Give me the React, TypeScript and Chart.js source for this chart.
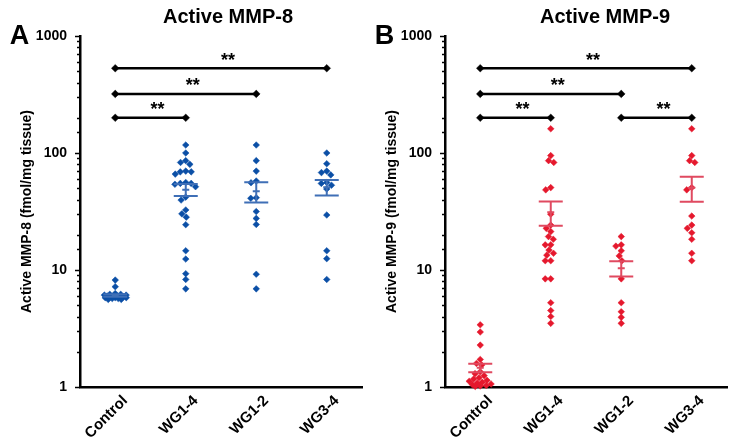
import React, { useEffect, useRef } from 'react';
import { Chart, registerables } from 'chart.js';

Chart.register(...registerables);

// ---------- data ----------
const categories = ['Control', 'WG1-4', 'WG1-2', 'WG3-4'];
const majorTicks = [1, 10, 100, 1000];

const mmp8Control = [8.2, 7.2, 6.3, 6.2, 6.2, 6.1, 6.1, 6.0, 6.0, 6.0, 5.9, 5.9, 5.9, 5.8, 5.8, 5.8, 5.7, 5.7, 5.6, 5.6];
const mmp8WG14 = [117, 100, 86, 83, 80, 70, 69, 69, 66, 56, 55, 55, 54, 51.5, 42, 39.6, 32.6, 30.2, 28.3, 24.4, 14.6, 12.4, 9.3, 8.3, 6.9];
const mmp8WG12 = [117, 86, 70, 57.6, 55.7, 41.5, 41, 31.6, 27.6, 24.5, 9.2, 6.9];
const mmp8WG34 = [100, 81, 70, 68, 65, 56, 55, 53, 49.3, 29.5, 14.6, 12.5, 8.3];
const mmp8Mean = [6.05, 48.6, 47, 51];
const mmp8Sem = [0.15, 5.6, 9.2, 7.7];

const mmp9Control = [3.4, 2.95, 2.28, 1.72, 1.59, 1.54, 1.35, 1.3, 1.25, 1.2, 1.17, 1.14, 1.12, 1.1, 1.08, 1.06, 1.05, 1.03, 1.02, 1.01];
const mmp9WG14 = [161, 95, 86, 83, 50.6, 48.4, 30, 24.2, 22.7, 21.3, 19.3, 18.3, 16.4, 16.4, 14.8, 13.9, 13.4, 12, 12, 8.4, 8.4, 5.25, 4.5, 4.0, 3.5];
const mmp9WG12 = [19.3, 16.4, 16.0, 14.6, 13.2, 12.0, 8.4, 5.25, 4.4, 3.94, 3.5];
const mmp9WG34 = [161, 95, 86, 83, 50.6, 48.4, 28.9, 24.2, 22.7, 20.8, 18.3, 13.9, 12.0];
const mmp9Mean = [1.46, 31.2, 10.35, 50.5];
const mmp9Sem = [0.12, 7.3, 1.55, 12.2];

// significance brackets: from group, to group, level
const mmp8BracketFrom = [0, 0, 0];
const mmp8BracketTo = [3, 2, 1];
const mmp8BracketLevel = [530, 320, 200];
const mmp9BracketFrom = [0, 0, 0, 2];
const mmp9BracketTo = [3, 2, 1, 3];
const mmp9BracketLevel = [530, 320, 200, 200];
const sigLabel = '**';

// ---------- layout constants ----------
const FONT = 'Arial, "Liberation Sans", Helvetica, sans-serif';
const PX_PER_DECADE = 117;
const PX_PER_CAT = 70.5;
const CANVAS_W = 367;
const CANVAS_H = 444;
const SWARM_SPACING = 5.5;
const SWARM_HALF = 11;

// deterministic beeswarm layout (pixel offsets), capped in width
function beeswarm(values: number[]): number[] {
  const spacing = SWARM_SPACING;
  const ys = values.map((v) => Math.log10(v) * PX_PER_DECADE);
  const order = values.map((_, i) => i).sort((a, b) => ys[b] - ys[a]);
  const placed: { x: number; y: number }[] = [];
  const xs = new Array(values.length).fill(0);
  const d2 = spacing * spacing;
  for (const i of order) {
    const y = ys[i];
    const cands = [0];
    for (const p of placed) {
      const dy = y - p.y;
      if (Math.abs(dy) < spacing) {
        const dx = Math.sqrt(d2 - dy * dy);
        cands.push(p.x + dx, p.x - dx);
      }
    }
    cands.sort((a, b) => Math.abs(a) - Math.abs(b) || a - b);
    let best: number | null = null;
    for (const c of cands) {
      if (Math.abs(c) > SWARM_HALF) break;
      if (placed.every((p) => (p.x - c) ** 2 + (p.y - y) ** 2 >= d2 - 1e-6)) {
        best = c;
        break;
      }
    }
    if (best === null) {
      let bestScore = -1;
      best = 0;
      for (let k = 0; k <= 2 * SWARM_HALF; k++) {
        const c = k % 2 === 0 ? k / 2 : -(k + 1) / 2;
        if (Math.abs(c) > SWARM_HALF) continue;
        let minD = Infinity;
        for (const p of placed) minD = Math.min(minD, (p.x - c) ** 2 + (p.y - y) ** 2);
        if (minD > bestScore + 1e-6) {
          bestScore = minD;
          best = c;
        }
      }
    }
    placed.push({ x: best, y });
    xs[i] = best;
  }
  return xs;
}

type PanelProps = {
  letter: string;
  title: string;
  titleX: number;
  yTitle: string;
  groups: number[][];
  means: number[];
  sems: number[];
  bFrom: number[];
  bTo: number[];
  bLevel: number[];
  pointColor: string;
  lineColor: string;
  left: number;
};

function Panel(props: PanelProps) {
  const ref = useRef<HTMLCanvasElement | null>(null);

  useEffect(() => {
    const canvas = ref.current;
    if (!canvas) return;
    const { groups, means, sems, bFrom, bTo, bLevel, pointColor, lineColor } = props;

    const datasets: any[] = [];
    groups.forEach((vals, gi) => {
      const offs = beeswarm(vals);
      datasets.push({
        type: 'scatter',
        data: vals.map((v, i) => ({ x: gi + offs[i] / PX_PER_CAT, y: v })),
        pointStyle: 'rectRot',
        pointRadius: 3.3,
        pointHoverRadius: 3.3,
        backgroundColor: pointColor,
        borderColor: pointColor,
        borderWidth: 0.5,
        clip: false,
      });
    });
    bFrom.forEach((f, k) => {
      datasets.push({
        type: 'line',
        data: [
          { x: f, y: bLevel[k] },
          { x: bTo[k], y: bLevel[k] },
        ],
        borderColor: '#000',
        borderWidth: 2.5,
        pointStyle: 'rectRot',
        pointRadius: 3.8,
        pointHoverRadius: 3.8,
        pointBackgroundColor: '#000',
        pointBorderColor: '#000',
        pointBorderWidth: 0.5,
        fill: false,
        clip: false,
      });
    });

    const annot = {
      id: 'annot',
      afterDatasetsDraw(chart: any) {
        const { ctx, scales } = chart;
        const x = scales.x;
        const y = scales.y;
        ctx.save();
        ctx.strokeStyle = lineColor;
        ctx.lineWidth = 2;
        means.forEach((m, i) => {
          const cx = x.getPixelForValue(i);
          const yHi = y.getPixelForValue(m + sems[i]);
          const yLo = y.getPixelForValue(m - sems[i]);
          const yM = y.getPixelForValue(m);
          ctx.beginPath();
          ctx.moveTo(cx - 12, yHi);
          ctx.lineTo(cx + 12, yHi);
          ctx.moveTo(cx - 12, yLo);
          ctx.lineTo(cx + 12, yLo);
          ctx.moveTo(cx, yHi);
          ctx.lineTo(cx, yLo);
          ctx.moveTo(cx - 3.5, yM);
          ctx.lineTo(cx + 3.5, yM);
          ctx.stroke();
        });
        ctx.fillStyle = '#000';
        ctx.font = `bold 18px ${FONT}`;
        ctx.textAlign = 'center';
        ctx.textBaseline = 'alphabetic';
        bFrom.forEach((f, k) => {
          const mx = (x.getPixelForValue(f) + x.getPixelForValue(bTo[k])) / 2 + 7;
          const py = y.getPixelForValue(bLevel[k]) - 2.5;
          ctx.fillText(sigLabel, mx, py);
        });
        ctx.restore();
      },
      afterDraw(chart: any) {
        const { ctx, chartArea, scales } = chart;
        const y = scales.y;
        ctx.save();
        ctx.strokeStyle = '#000';
        ctx.lineWidth = 1.5;
        y.ticks.forEach((t: any) => {
          const isMajor = majorTicks.some((m) => Math.abs(m - t.value) < 1e-6);
          const py = Math.round(y.getPixelForValue(t.value)) + 0.5;
          ctx.beginPath();
          ctx.moveTo(chartArea.left - (isMajor ? 5 : 3), py);
          ctx.lineTo(chartArea.left, py);
          ctx.stroke();
        });
        ctx.fillStyle = '#000';
        ctx.font = `bold 20px ${FONT}`;
        ctx.textAlign = 'center';
        ctx.textBaseline = 'middle';
        ctx.fillText(props.title, props.titleX, 17);
        ctx.font = `bold 27px ${FONT}`;
        ctx.fillText(props.letter, 19.5, 37);
        ctx.translate(27, (chartArea.top + chartArea.bottom) / 2);
        ctx.rotate(-Math.PI / 2);
        ctx.font = `bold 14px ${FONT}`;
        ctx.fillText(props.yTitle, 0, 0);
        ctx.restore();
      },
    };

    const chart = new Chart(canvas, {
      type: 'scatter',
      data: { datasets },
      options: {
        animation: false,
        responsive: false,
        devicePixelRatio: 1,
        events: [],
        layout: { padding: { top: 36, right: 5, left: 0, bottom: 0 } },
        plugins: {
          legend: { display: false },
          tooltip: { enabled: false },
          title: { display: false },
        },
        scales: {
          x: {
            type: 'linear',
            min: -0.5,
            max: 3.5,
            afterBuildTicks: (s: any) => {
              s.ticks = categories.map((_, i) => ({ value: i }));
            },
            afterFit: (s: any) => {
              s.height = CANVAS_H - 387;
            },
            grid: { display: false },
            border: { display: true, color: '#000', width: 2.5 },
            ticks: {
              autoSkip: false,
              maxRotation: 45,
              minRotation: 45,
              padding: -3,
              labelOffset: 10,
              color: '#000',
              font: { family: FONT, size: 15, weight: 'bold' },
              callback: (v: any) => categories[v] ?? '',
            },
          },
          y: {
            type: 'logarithmic',
            min: 1,
            max: 1000,
            afterFit: (s: any) => {
              s.width = 80;
            },
            grid: { display: false },
            border: { display: true, color: '#000', width: 2.5 },
            ticks: {
              autoSkip: false,
              padding: 5,
              color: '#000',
              font: { family: FONT, size: 14, weight: 'bold' },
              callback: (v: any) =>
                majorTicks.some((m) => Math.abs(m - Number(v)) < 1e-6) ? String(v) : '',
            },
          },
        },
      } as any,
      plugins: [annot],
    });

    return () => chart.destroy();
  }, []);

  return (
    <canvas
      ref={ref}
      width={CANVAS_W}
      height={CANVAS_H}
      style={{ position: 'absolute', left: props.left, top: 0, width: CANVAS_W, height: CANVAS_H }}
    />
  );
}

export default function App() {
  return (
    <div style={{ position: 'absolute', left: 0, top: 0, width: 735, height: 444, background: '#fff', overflow: 'hidden' }}>
      <Panel
        letter="A"
        title="Active MMP-8"
        titleX={228}
        yTitle="Active MMP-8 (fmol/mg tissue)"
        groups={[mmp8Control, mmp8WG14, mmp8WG12, mmp8WG34]}
        means={mmp8Mean}
        sems={mmp8Sem}
        bFrom={mmp8BracketFrom}
        bTo={mmp8BracketTo}
        bLevel={mmp8BracketLevel}
        pointColor="#0b4fa6"
        lineColor="#3f6fb6"
        left={0}
      />
      <Panel
        letter="B"
        title="Active MMP-9"
        titleX={240}
        yTitle="Active MMP-9 (fmol/mg tissue)"
        groups={[mmp9Control, mmp9WG14, mmp9WG12, mmp9WG34]}
        means={mmp9Mean}
        sems={mmp9Sem}
        bFrom={mmp9BracketFrom}
        bTo={mmp9BracketTo}
        bLevel={mmp9BracketLevel}
        pointColor="#e5182d"
        lineColor="#e04a60"
        left={365}
      />
    </div>
  );
}
